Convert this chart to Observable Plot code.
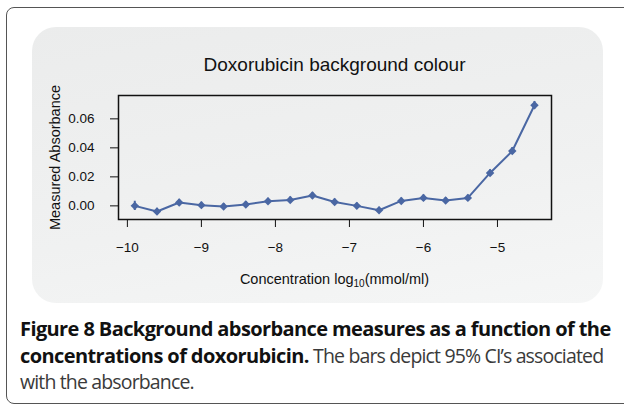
<!DOCTYPE html>
<html>
<head>
<meta charset="utf-8">
<script src="https://cdn.jsdelivr.net/npm/d3@7"></script>
<script src="https://cdn.jsdelivr.net/npm/@observablehq/plot@0.6"></script>
<style>
  html, body { margin: 0; padding: 0; background: #fff; width: 624px; height: 407px; overflow: hidden; }
  #frame { position: absolute; left: 6px; top: 7px; width: 660px; height: 397px; border: 1.5px solid #555; border-radius: 8px; box-sizing: border-box; }
  #panel { position: absolute; left: 32px; top: 27px; width: 571px; height: 276px; border-radius: 24px;
           background: linear-gradient(170deg, #ebecec 0%, #f0f1f1 60%, #f5f6f6 100%); }
  #chart { position: absolute; left: 0; top: 0; }
  .ptitle { position: absolute; left: 118px; width: 433px; top: 54px; text-align: center;
            font-family: "Liberation Sans", Arial, sans-serif; font-size: 19px; color: #111; }
  .xlabel { position: absolute; left: 118px; width: 433px; top: 271px; text-align: center;
            font-family: "Liberation Sans", Arial, sans-serif; font-size: 14.5px; color: #111; }
  .xlabel sub { font-size: 10px; vertical-align: -3px; line-height: 0; }
  #caption { position: absolute; left: 20px; top: 316px; width: 604px; font-family: "Open Sans", "Noto Sans", sans-serif;
             font-size: 20px; line-height: 26.5px; color: #3a3a3a; letter-spacing: -0.6px; white-space: nowrap; }
  #caption b { color: #111; font-weight: 700; }
  #caption span { font-size: 19.5px; letter-spacing: -0.85px; }
</style>
</head>
<body>
<div id="frame"></div>
<div id="panel"></div>
<div id="chart"></div>
<div class="ptitle">Doxorubicin background colour</div>
<div class="xlabel">Concentration log<sub>10</sub>(mmol/ml)</div>
<div id="caption"><b>Figure 8 Background absorbance measures as a function of the<br>concentrations of doxorubicin.</b><span> The bars depict 95% CI’s associated<br>with the absorbance.</span></div>
<script>
// Data
const logConc = [-9.9, -9.6, -9.3, -9.0, -8.7, -8.4, -8.1, -7.8, -7.5, -7.2, -6.9, -6.6, -6.3, -6.0, -5.7, -5.4, -5.1, -4.8, -4.5];
const absorbance = [0.0000, -0.0039, 0.0023, 0.0005, -0.0005, 0.0009, 0.0032, 0.0041, 0.0071, 0.0027, 0.0000, -0.0030, 0.0034, 0.0055, 0.0037, 0.0055, 0.0227, 0.0378, 0.0694];
const ciHalf = [0.0032, 0.0022, 0.0022, 0.0020, 0.0020, 0.0020, 0.0020, 0.0020, 0.0022, 0.0020, 0.0020, 0.0020, 0.0020, 0.0020, 0.0020, 0.0020, 0.0022, 0.0024, 0.0026];
const xTicks = [-10, -9, -8, -7, -6, -5];
const yTicks = [0.00, 0.02, 0.04, 0.06];

const data = logConc.map((x, i) => ({x, y: absorbance[i], lo: absorbance[i] - ciHalf[i], hi: absorbance[i] + ciHalf[i]}));
const blue = "#4a67a3";
const diamond = d3.symbolDiamond2 || "diamond";

const chart = Plot.plot({
  width: 624,
  height: 310,
  marginLeft: 118,
  marginRight: 73,
  marginTop: 95,
  marginBottom: 91,
  style: {background: "transparent", fontFamily: "'Liberation Sans', Arial, sans-serif", fontSize: "13.5px", color: "#111"},
  x: {domain: [-10.12, -4.27], ticks: xTicks, tickFormat: d3.format("d"), tickSize: 8, tickPadding: 15, label: null},
  y: {domain: [-0.0094, 0.0761], ticks: yTicks, tickFormat: d3.format(".2f"), tickSize: 8, tickPadding: 16, label: null},
  marks: [
    Plot.frame({stroke: "#111", strokeWidth: 1.5}),
    Plot.line(data, {x: "x", y: "y", stroke: blue, strokeWidth: 2}),
    Plot.ruleX(data, {x: "x", y1: "lo", y2: "hi", stroke: blue, strokeWidth: 2}),
    Plot.dot(data, {x: "x", y: "y", symbol: diamond, r: 3.8, fill: blue, stroke: "none"}),
    Plot.text(["Measured Absorbance"], {frameAnchor: "left", textAnchor: "middle", lineAnchor: "middle", text: d => d, rotate: -90, dx: -63, fontSize: 14.5, fill: "#111"})
  ]
});
document.getElementById("chart").appendChild(chart);
</script>
</body>
</html>
